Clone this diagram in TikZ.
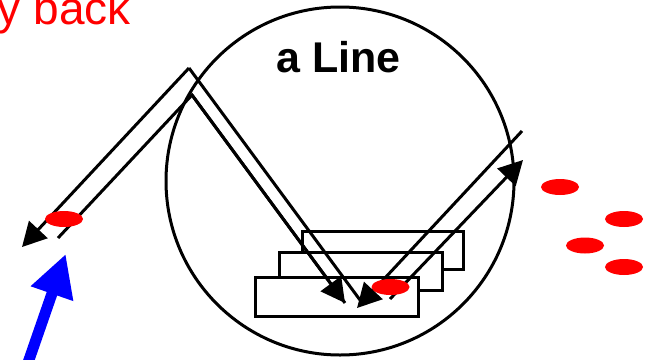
\documentclass[tikz,border=0pt]{standalone}
\usepackage{fontspec}
\setmainfont{Liberation Sans}
\usetikzlibrary{arrows.meta}
\tikzset{
  ray/.style={line width=3pt, line join=miter},
  rayhead/.style={ray, -{Triangle[length=24pt,width=25pt]}},
  slab/.style={draw, line width=3pt, fill=white},
  photon/.style={fill=red, draw=none, ellipse},
}
\begin{document}
\begin{tikzpicture}[x=1pt,y=-1pt]
\useasboundingbox (0,0) rectangle (652,359);
\clip (0,0) rectangle (652,359);
% lens circle
\draw[line width=3pt] (340,181) circle (174);
% slabs
\draw[slab] (302,231) rectangle (463,269);
\draw[slab] (279,252) rectangle (442,290);
\draw[slab] (255,277) rectangle (418,316);
% coordinates
\coordinate (apexO) at (189,68);
\coordinate (apexI) at (192,95);
\coordinate (leftO) at (22,247);
\coordinate (leftI) at (58,238);
\coordinate (botI) at (345,303);
\coordinate (botO) at (360,300);
\coordinate (r1top) at (522,131);
\coordinate (r1bot) at (357,308);
\coordinate (r2bot) at (390,299);
\coordinate (r2top) at (523,160);
% rays
\draw[rayhead] (apexO) -- (leftO);
\draw[ray] (leftI) -- (apexI) -- (botI);
\draw[rayhead] (apexI) -- (botI);
\draw[ray] (apexO) -- (botO);
\draw[rayhead] (r1top) -- (r1bot);
\draw[rayhead] (r2bot) -- (r2top);
% photons
\fill[red] (64,219) ellipse (19 and 8);
\fill[red] (390.5,287) ellipse (19 and 8);
\fill[red] (560,187) ellipse (19 and 8);
\fill[red] (624,219) ellipse (19 and 8);
\fill[red] (585,245.5) ellipse (19 and 8);
\fill[red] (624,267) ellipse (19 and 8);
% blue arrow
\coordinate (bluetail) at (22,380);
\coordinate (bluetip) at (65.7,254);
\draw[blue, line width=11pt, -{Triangle[length=42pt,width=42pt]}] (bluetail) -- (bluetip);
% texts
\node[anchor=base west, inner sep=0pt, font=\bfseries\fontsize{43}{43}\selectfont] (title) at (276,72) {a Line};
\node[anchor=base east, inner sep=0pt, text=red, font=\fontsize{46}{46}\selectfont] (caption) at (131,24) {y back};
\end{tikzpicture}
\end{document}
